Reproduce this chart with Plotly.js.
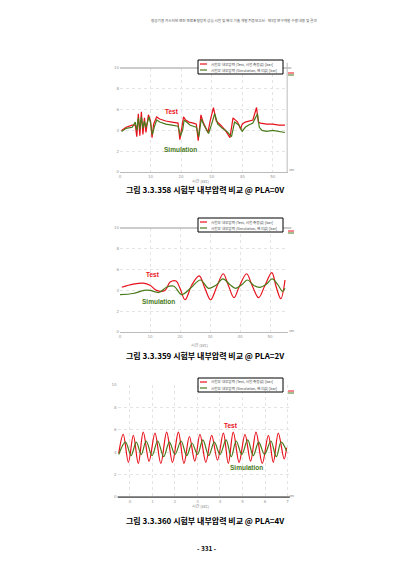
<!DOCTYPE html>
<html><head><meta charset="utf-8">
<script src="https://cdn.plot.ly/plotly-3.0.1.min.js"></script>
<style>html,body{margin:0;padding:0;background:#fff}#chart{width:413px;height:584px}</style>
</head><body><div id="chart"></div>
<script>
// ---- Chart 1 (PLA=0V) ----
const c1TestX = [0.5,2,4,5,5.5,6,6.5,7,7.5,8,8.5,9,9.3,10,10.5,11,12,13,15,17,19,19.6,20.3,20.8,21.5,22.6,24,25,25.6,26.5,27.2,28,28.8,29.5,30.6,31.5,33,34.5,35.5,36,37,38.5,39.5,40,41,42,43.5,44.7,45.3,46,48,50,52,54];
const c1TestY = [4.0,4.3,4.5,4.5,3.4,5.6,3.5,5.8,3.6,5.2,3.8,5.0,5.5,4.9,3.3,4.6,5.3,5.1,4.9,4.8,4.7,3.1,4.2,5.3,5.0,4.8,4.7,4.6,3.0,5.5,4.8,4.3,3.8,4.9,6.2,4.9,4.5,4.0,3.6,3.3,5.2,4.8,4.1,4.6,4.8,4.9,5.0,6.2,4.8,4.7,4.6,4.6,4.5,4.5];
const c1SimX = [0.5,2,4,5,5.5,6,6.5,7,7.5,8,8.5,9,9.5,10,10.6,11.2,12,13,15,17,19,19.8,20.5,21,22,23,24,25,25.8,26.6,27.5,28.3,29,30,31,32,33.5,35,36,36.5,37.5,39,40,41,42,43.5,45,45.6,46.5,48,50,52,54];
const c1SimY = [3.9,4.2,4.3,4.8,4.0,5.2,4.1,5.3,4.2,4.9,4.3,4.8,5.3,4.7,3.6,4.3,5.0,4.8,4.6,4.5,4.4,3.5,4.0,5.0,4.7,4.5,4.4,4.3,3.4,5.1,4.5,4.1,3.7,4.6,5.6,4.6,4.2,3.9,3.6,3.4,4.8,4.5,3.9,4.3,4.5,4.7,5.6,4.3,4.0,3.9,4.0,3.9,3.8];
// ---- Chart 2 (PLA=2V) ----
const c2TestX = [0.6,4.4,7.8,10,12.2,15,16.7,18.7,20,21.7,23.9,26.4,28.3,30.2,32.2,34.4,36.1,38,39.8,42.2,44,46.2,48.2,50.6,52,53.6,55];
const c2TestY = [4.3,4.6,4.7,4.5,4.0,4.0,4.8,4.9,4.2,3.1,4.5,5.4,4.2,3.1,4.3,5.6,4.5,3.3,4.4,5.6,4.5,3.3,4.4,5.7,4.4,3.2,5.0];
const c2SimX = [0,4.4,8,10,13,15.5,18,20.5,23.5,26.8,29.5,32,34.3,36.5,38.5,40.8,42.5,44.5,46.5,48.8,50.7,52.5,54.2,55];
const c2SimY = [3.6,3.7,4.0,4.0,3.8,4.3,4.4,3.6,4.2,5.0,4.2,4.5,5.1,4.6,4.2,4.6,5.0,4.5,4.3,4.6,5.1,4.6,3.9,4.2];
// ---- Chart 3 (PLA=4V) ----
const c3TestX = [-0.5,-0.3,-0.07,0.15,0.37,0.59,0.85,1.11,1.37,1.63,1.89,2.15,2.40,2.64,2.88,3.11,3.37,3.63,3.89,4.15,4.37,4.59,4.85,5.11,5.36,5.60,5.88,6.15,6.37,6.59,6.85,6.96];
const c3TestY = [3.9,5.6,3.1,5.5,3.0,5.8,3.2,5.7,3.0,5.8,3.1,5.8,3.0,5.4,3.2,5.6,3.1,5.5,3.3,5.7,3.0,5.8,3.1,5.6,3.2,5.8,3.0,5.5,3.1,5.7,3.4,4.4];
const c3SimX = [-0.5,-0.2,0.05,0.28,0.5,0.72,0.98,1.23,1.5,1.75,2.0,2.27,2.52,2.76,3.0,3.24,3.5,3.75,4.0,4.27,4.5,4.72,4.97,5.23,5.48,5.72,5.98,6.26,6.5,6.72,6.96];
const c3SimY = [3.8,4.9,3.7,4.9,3.8,5.0,3.7,5.0,3.6,4.9,3.8,5.0,3.7,4.8,3.8,5.1,3.7,4.9,3.8,5.1,3.6,5.0,3.8,5.1,3.7,4.9,3.8,5.0,3.6,4.9,4.1];

const captions = ['그림 3.3.358 시험부 내부압력 비교 @ PLA=0V','그림 3.3.359 시험부 내부압력 비교 @ PLA=2V','그림 3.3.360 시험부 내부압력 비교 @ PLA=4V'];
const legendTest = '시험부 내부압력 (Test, 시험 측정값) [bar]';
const legendSim = '시험부 내부압력 (Simulation, 해석값) [bar]';
const headerText = '항공기용 가스터빈 엔진 연료조절장치 성능 시험 및 해석 기술 개발 최종보고서 - 제3장 연구개발 수행 내용 및 결과';
const pageNo = '- 331 -';

const RED = '#e8101a', GREEN = '#4a7a1c';
function tr(x,y,name,color,xa,ya,shape){
  return {x:x,y:y,name:name,type:'scatter',mode:'lines',xaxis:xa,yaxis:ya,
    line:{color:color,width:1.2,shape:shape||'linear'},showlegend:false};
}
const data = [
  tr(c1TestX,c1TestY,'Test',RED,'x','y'),
  tr(c1SimX,c1SimY,'Simulation',GREEN,'x','y'),
  tr(c2TestX,c2TestY,'Test',RED,'x2','y2','spline'),
  tr(c2SimX,c2SimY,'Simulation',GREEN,'x2','y2','spline'),
  tr(c3TestX,c3TestY,'Test',RED,'x3','y3','spline'),
  tr(c3SimX,c3SimY,'Simulation',GREEN,'x3','y3','spline')
];
const W=413,H=584;
const tickF = {size:4,color:'#999',family:'DejaVu Sans'};
function xax(l,r,range,dtick,anchor){
  return {domain:[l/W,r/W],range:range,dtick:dtick,anchor:anchor,showgrid:true,gridcolor:'#e4e4e4',griddash:'dot',
    zeroline:false,showline:true,linecolor:'#bbb',linewidth:1,ticks:'',tickfont:tickF,fixedrange:true};
}
function yax(t,b,anchor){
  return {domain:[1-b/H,1-t/H],range:[0,10],dtick:2,anchor:anchor,showgrid:true,gridcolor:'#e4e4e4',griddash:'dot',
    zeroline:false,showline:false,ticks:'',tickfont:tickF,fixedrange:true};
}
function ann(x,y,text,size,color,bold,family,xanchor){
  return {xref:'paper',yref:'paper',x:x/W,y:1-y/H,text:bold?'<b>'+text+'</b>':text,showarrow:false,
    xanchor:xanchor||'center',yanchor:'middle',font:{size:size,color:color,family:family||'Noto Sans CJK KR'}};
}
const annotations = [
  ann(234,20,headerText,3.6,'#555',false),
  ann(205,189,captions[0],8,'#000',true),
  ann(205,355,captions[1],8,'#000',true),
  ann(205,520,captions[2],8,'#000',true),
  ann(207,548,pageNo,6.5,'#000',true),
  ann(172,111,'Test',6.5,RED,true,'Liberation Sans'),
  ann(180,149,'Simulation',6.5,GREEN,true,'Liberation Sans'),
  ann(153,275,'Test',6.5,RED,true,'Liberation Sans'),
  ann(158,301,'Simulation',6.5,GREEN,true,'Liberation Sans'),
  ann(231,425,'Test',6.5,RED,true,'Liberation Sans'),
  ann(246,467,'Simulation',6.5,GREEN,true,'Liberation Sans'),
  ann(200,181,'시간 (sec)',4,'#888',false),
  ann(199,345,'시간 (sec)',4,'#888',false),
  ann(200,506,'시간 (sec)',4,'#888',false),
  ann(292,170,'sec',3.5,'#888',false),
  ann(292,330,'sec',3.5,'#888',false),
  ann(292,495,'sec',3.5,'#888',false)
];
const shapes = [
  {type:'line',xref:'x domain',yref:'y domain',x0:0,x1:1.02,y0:1,y1:1,line:{color:'#999',width:1}},
  {type:'line',xref:'x domain',yref:'y domain',x0:0.995,x1:0.995,y0:0,y1:1.05,line:{color:'#bbb',width:1}},
  {type:'line',xref:'x2 domain',yref:'y2 domain',x0:0,x1:1.02,y0:1,y1:1,line:{color:'#999',width:1}},
  {type:'line',xref:'x3 domain',yref:'y3 domain',x0:0,x1:1,y0:0,y1:0,line:{color:'#222',width:1}}
];
// hand-drawn legend boxes (like the scanned figure)
function legendBox(top){
  const px = v=>v/W, py = v=>1-v/H;
  shapes.push({type:'rect',xref:'paper',yref:'paper',x0:px(198),x1:px(283),y0:py(top),y1:py(top+14),line:{color:'#000',width:1},fillcolor:'#fff'});
  shapes.push({type:'line',xref:'paper',yref:'paper',x0:px(200),x1:px(207),y0:py(top+4),y1:py(top+4),line:{color:RED,width:1.2}});
  shapes.push({type:'line',xref:'paper',yref:'paper',x0:px(200),x1:px(207),y0:py(top+10),y1:py(top+10),line:{color:GREEN,width:1.2}});
  shapes.push({type:'line',xref:'paper',yref:'paper',x0:px(288),x1:px(294),y0:py(top+13),y1:py(top+13),line:{color:RED,width:1}});
  shapes.push({type:'line',xref:'paper',yref:'paper',x0:px(288),x1:px(294),y0:py(top+15),y1:py(top+15),line:{color:GREEN,width:1}});
  annotations.push(ann(209,top+4,legendTest,3.6,'#444',false,null,'left'));
  annotations.push(ann(209,top+10,legendSim,3.6,'#444',false,null,'left'));
}
legendBox(60); legendBox(218); legendBox(378);
const layout = {
  width:W,height:H,margin:{l:0,r:0,t:0,b:0},paper_bgcolor:'#fff',plot_bgcolor:'#fff',
  font:{family:'Noto Sans CJK KR'},showlegend:false,
  xaxis:xax(120,288,[0,55],10,'y'), yaxis:yax(68,172,'x'),
  xaxis2:xax(120,288,[0,56],10,'y2'), yaxis2:yax(228,332,'x2'),
  xaxis3:xax(117.6,289.75,[-0.55,7.1],1,'y3'), yaxis3:yax(385,497,'x3'),
  annotations:annotations, shapes:shapes
};
Plotly.newPlot('chart',data,layout,{staticPlot:true,displayModeBar:false});
</script></body></html>
